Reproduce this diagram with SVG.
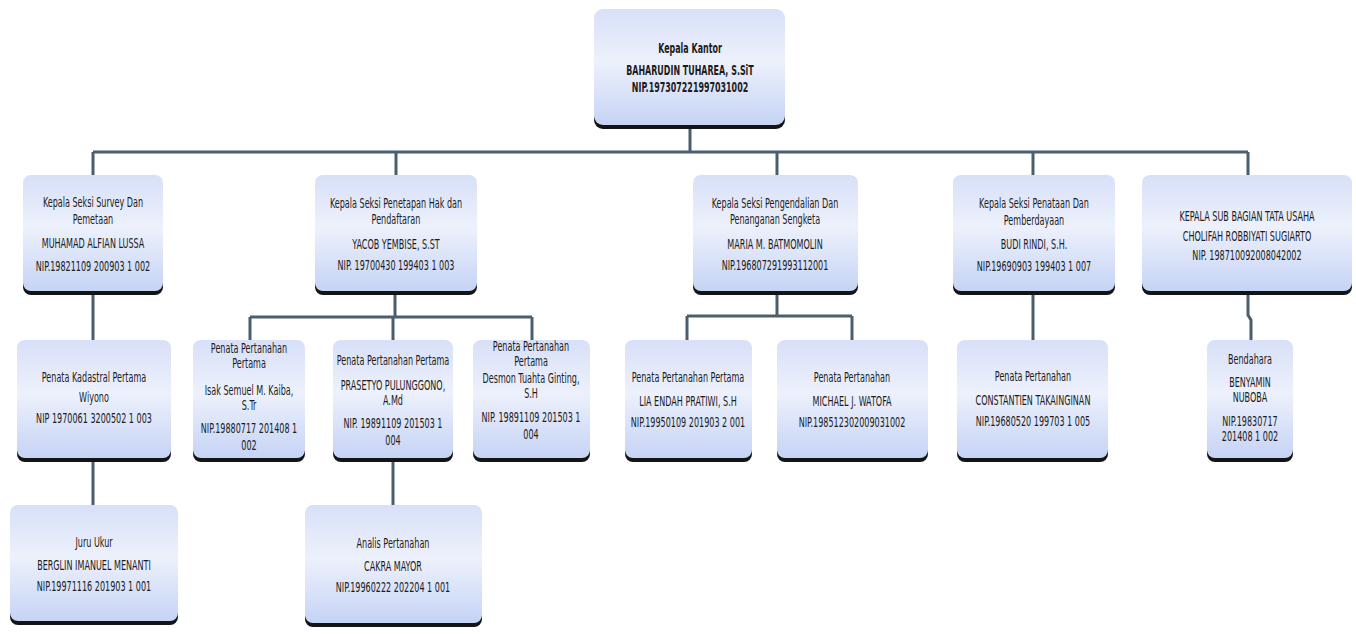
<svg xmlns="http://www.w3.org/2000/svg" width="1356" height="635" viewBox="0 0 1356 635">
<defs>
<linearGradient id="g" x1="0" y1="0" x2="0" y2="1">
<stop offset="0" stop-color="#d8e0f8"/>
<stop offset="0.45" stop-color="#edf1fc"/>
<stop offset="1" stop-color="#c5d3f5"/>
</linearGradient>
</defs>
<style>
.box{fill:url(#g);}
.sh{fill:#141414;}
.t{font-family:"DejaVu Sans Condensed","DejaVu Sans",sans-serif;font-stretch:condensed;font-size:14px;fill:#1c1c1c;text-anchor:middle;}
.b{font-weight:bold;font-size:14.5px;}
.c{fill:none;stroke:#4a5e6e;stroke-width:3;}
</style>
<rect width="1356" height="635" fill="#ffffff"/>
<g id="connectors">
<path class="c" d="M690 125V152M93 152H1248M93 152V175M396 152V175M777 152V175M1033 152V175M1248 152V175"/>
<path class="c" d="M93 295V340M395 295V317M250 317H532M250 317V340M393 317V340M532 317V340"/>
<path class="c" d="M777 295V316M687 316H852M687 316V340M852 316V340"/>
<path class="c" d="M1033 295V340M1248 295V315L1251 320V340"/>
<path class="c" d="M93 460V505M393 460V505"/>
</g>
<g id="kepala-kantor">
<rect class="sh" x="594" y="13" width="191" height="116" rx="9"/>
<rect class="box" x="594" y="9" width="191" height="116" rx="9"/>
<g transform="translate(690 0) scale(0.61 1)">
<text class="t b" x="0" y="53">Kepala Kantor</text>
<text class="t b" x="0" y="75">BAHARUDIN TUHAREA, S.SiT</text>
<text class="t b" x="0" y="92">NIP.197307221997031002</text>
</g>
</g>
<g id="seksi-survey">
<rect class="sh" x="23" y="179" width="140" height="116" rx="8"/>
<rect class="box" x="23" y="175" width="140" height="116" rx="8"/>
<g transform="translate(93 0) scale(0.64 1)">
<text class="t" x="0" y="207">Kepala Seksi Survey Dan</text>
<text class="t" x="0" y="224">Pemetaan</text>
<text class="t" x="0" y="248">MUHAMAD ALFIAN LUSSA</text>
<text class="t" x="0" y="271">NIP.19821109 200903 1 002</text>
</g>
</g>
<g id="seksi-penetapan">
<rect class="sh" x="315" y="179" width="162" height="116" rx="8"/>
<rect class="box" x="315" y="175" width="162" height="116" rx="8"/>
<g transform="translate(396 0) scale(0.64 1)">
<text class="t" x="0" y="208">Kepala Seksi Penetapan Hak dan</text>
<text class="t" x="0" y="224">Pendaftaran</text>
<text class="t" x="0" y="249">YACOB YEMBISE, S.ST</text>
<text class="t" x="0" y="270">NIP. 19700430 199403 1 003</text>
</g>
</g>
<g id="seksi-pengendalian">
<rect class="sh" x="693" y="179" width="165" height="116" rx="8"/>
<rect class="box" x="693" y="175" width="165" height="116" rx="8"/>
<g transform="translate(775 0) scale(0.64 1)">
<text class="t" x="0" y="208">Kepala Seksi Pengendalian Dan</text>
<text class="t" x="0" y="224">Penanganan Sengketa</text>
<text class="t" x="0" y="249">MARIA M. BATMOMOLIN</text>
<text class="t" x="0" y="270">NIP.196807291993112001</text>
</g>
</g>
<g id="seksi-penataan">
<rect class="sh" x="953" y="179" width="162" height="116" rx="8"/>
<rect class="box" x="953" y="175" width="162" height="116" rx="8"/>
<g transform="translate(1034 0) scale(0.64 1)">
<text class="t" x="0" y="208">Kepala Seksi Penataan Dan</text>
<text class="t" x="0" y="225">Pemberdayaan</text>
<text class="t" x="0" y="249">BUDI RINDI, S.H.</text>
<text class="t" x="0" y="271">NIP.19690903 199403  1 007</text>
</g>
</g>
<g id="sub-bagian-tu">
<rect class="sh" x="1142" y="179" width="210" height="116" rx="8"/>
<rect class="box" x="1142" y="175" width="210" height="116" rx="8"/>
<g transform="translate(1247 0) scale(0.64 1)">
<text class="t" x="0" y="221">KEPALA SUB BAGIAN TATA USAHA</text>
<text class="t" x="0" y="241">CHOLIFAH ROBBIYATI SUGIARTO</text>
<text class="t" x="0" y="260">NIP. 198710092008042002</text>
</g>
</g>
<g id="penata-kadastral">
<rect class="sh" x="17" y="344" width="154" height="118" rx="8"/>
<rect class="box" x="17" y="340" width="154" height="118" rx="8"/>
<g transform="translate(94 0) scale(0.64 1)">
<text class="t" x="0" y="382">Penata Kadastral Pertama</text>
<text class="t" x="0" y="402">Wiyono</text>
<text class="t" x="0" y="423">NIP  1970061 3200502 1 003</text>
</g>
</g>
<g id="penata-isak">
<rect class="sh" x="193" y="344" width="112" height="118" rx="8"/>
<rect class="box" x="193" y="340" width="112" height="118" rx="8"/>
<g transform="translate(249 0) scale(0.64 1)">
<text class="t" x="0" y="353">Penata Pertanahan</text>
<text class="t" x="0" y="368">Pertama</text>
<text class="t" x="0" y="395">Isak Semuel M.  Kaiba,</text>
<text class="t" x="0" y="410">S.Tr</text>
<text class="t" x="0" y="433">NIP.19880717 201408 1</text>
<text class="t" x="0" y="450">002</text>
</g>
</g>
<g id="penata-prasetyo">
<rect class="sh" x="333" y="344" width="120" height="118" rx="8"/>
<rect class="box" x="333" y="340" width="120" height="118" rx="8"/>
<g transform="translate(393 0) scale(0.64 1)">
<text class="t" x="0" y="365">Penata Pertanahan Pertama</text>
<text class="t" x="0" y="390">PRASETYO PULUNGGONO,</text>
<text class="t" x="0" y="405">A.Md</text>
<text class="t" x="0" y="428">NIP. 19891109 201503 1</text>
<text class="t" x="0" y="445">004</text>
</g>
</g>
<g id="penata-desmon">
<rect class="sh" x="473" y="344" width="117" height="118" rx="8"/>
<rect class="box" x="473" y="340" width="117" height="118" rx="8"/>
<g transform="translate(531 0) scale(0.64 1)">
<text class="t" x="0" y="351">Penata Pertanahan</text>
<text class="t" x="0" y="366">Pertama</text>
<text class="t" x="0" y="383">Desmon Tuahta Ginting,</text>
<text class="t" x="0" y="398">S.H</text>
<text class="t" x="0" y="422">NIP. 19891109 201503 1</text>
<text class="t" x="0" y="439">004</text>
</g>
</g>
<g id="penata-lia">
<rect class="sh" x="625" y="344" width="127" height="118" rx="8"/>
<rect class="box" x="625" y="340" width="127" height="118" rx="8"/>
<g transform="translate(688 0) scale(0.64 1)">
<text class="t" x="0" y="382">Penata Pertanahan Pertama</text>
<text class="t" x="0" y="406">LIA ENDAH PRATIWI, S.H</text>
<text class="t" x="0" y="427">NIP.19950109 201903 2 001</text>
</g>
</g>
<g id="penata-michael">
<rect class="sh" x="777" y="344" width="151" height="118" rx="8"/>
<rect class="box" x="777" y="340" width="151" height="118" rx="8"/>
<g transform="translate(852 0) scale(0.64 1)">
<text class="t" x="0" y="382">Penata Pertanahan</text>
<text class="t" x="0" y="406">MICHAEL J. WATOFA</text>
<text class="t" x="0" y="427">NIP.198512302009031002</text>
</g>
</g>
<g id="penata-constantien">
<rect class="sh" x="957" y="344" width="151" height="118" rx="8"/>
<rect class="box" x="957" y="340" width="151" height="118" rx="8"/>
<g transform="translate(1033 0) scale(0.64 1)">
<text class="t" x="0" y="381">Penata Pertanahan</text>
<text class="t" x="0" y="405">CONSTANTIEN TAKAINGINAN</text>
<text class="t" x="0" y="426">NIP.19680520 199703 1 005</text>
</g>
</g>
<g id="bendahara">
<rect class="sh" x="1207" y="344" width="86" height="118" rx="8"/>
<rect class="box" x="1207" y="340" width="86" height="118" rx="8"/>
<g transform="translate(1250 0) scale(0.64 1)">
<text class="t" x="0" y="364">Bendahara</text>
<text class="t" x="0" y="387">BENYAMIN</text>
<text class="t" x="0" y="402">NUBOBA</text>
<text class="t" x="0" y="426">NIP.19830717</text>
<text class="t" x="0" y="441">201408 1 002</text>
</g>
</g>
<g id="juru-ukur">
<rect class="sh" x="10" y="509" width="168" height="116" rx="8"/>
<rect class="box" x="10" y="505" width="168" height="116" rx="8"/>
<g transform="translate(94 0) scale(0.64 1)">
<text class="t" x="0" y="547">Juru Ukur</text>
<text class="t" x="0" y="570">BERGLIN IMANUEL MENANTI</text>
<text class="t" x="0" y="591">NIP.19971116 201903 1 001</text>
</g>
</g>
<g id="analis-pertanahan">
<rect class="sh" x="305" y="510" width="177" height="117" rx="8"/>
<rect class="box" x="305" y="505" width="177" height="118" rx="8"/>
<g transform="translate(393 0) scale(0.64 1)">
<text class="t" x="0" y="548">Analis Pertanahan</text>
<text class="t" x="0" y="571">CAKRA MAYOR</text>
<text class="t" x="0" y="592">NIP.19960222 202204 1 001</text>
</g>
</g>
</svg>
